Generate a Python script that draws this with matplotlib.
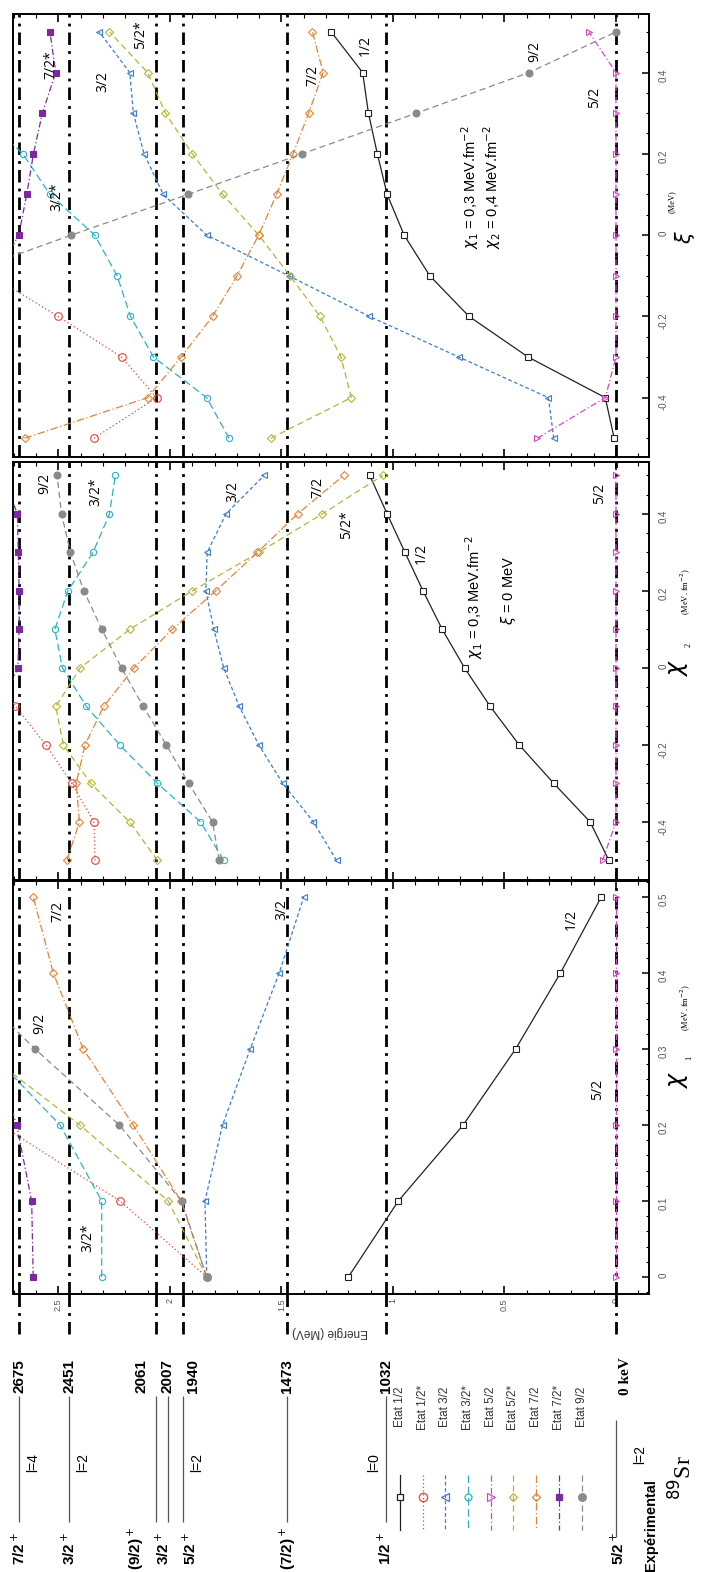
import numpy as np
import matplotlib
matplotlib.use("Agg")
import matplotlib.pyplot as plt
from matplotlib.ticker import MultipleLocator, FixedLocator

nan = np.nan

# ---- data (energies in MeV) ----
states = ["1/2", "1/2*", "3/2", "3/2*", "5/2", "5/2*", "7/2", "7/2*", "9/2"]

chi1_vals = [0.0, 0.1, 0.2, 0.3, 0.4, 0.5]
chi1_E = {
    "1/2": [1.20, 0.976, 0.685, 0.450, 0.249, 0.066],
    "1/2*": [1.835, 2.224, 2.76, nan, nan, nan],
    "3/2": [1.835, 1.843, 1.764, 1.64, 1.51, 1.40],
    "3/2*": [2.306, 2.306, 2.493, 2.82, nan, nan],
    "5/2": [0.0, 0.0, 0.0, 0.0, 0.0, 0.0],
    "5/2*": [1.835, 2.008, 2.404, 2.85, nan, nan],
    "7/2": [1.835, 1.95, 2.165, 2.389, 2.523, 2.613],
    "7/2*": [2.613, 2.62, 2.687, 2.80, nan, nan],
    "9/2": [1.835, 1.948, 2.227, 2.605, 2.95, nan],
}

chi2_vals = [-0.5, -0.4, -0.3, -0.2, -0.1, 0.0, 0.1, 0.2, 0.3, 0.4, 0.5]
chi2_E = {
    "1/2": [0.032, 0.116, 0.279, 0.434, 0.564, 0.679, 0.779, 0.865, 0.946, 1.026, 1.104],
    "1/2*": [2.335, 2.341, 2.44, 2.556, 2.693, 2.80, nan, nan, nan, nan, nan],
    "3/2": [1.253, 1.357, 1.494, 1.602, 1.689, 1.759, 1.803, 1.839, 1.833, 1.749, 1.578],
    "3/2*": [1.759, 1.863, 2.056, 2.225, 2.375, 2.482, 2.516, 2.458, 2.345, 2.271, 2.245],
    "5/2": [0.06, 0.0, 0.0, 0.0, 0.0, 0.0, 0.0, 0.0, 0.0, 0.0, 0.0],
    "5/2*": [2.056, 2.181, 2.355, 2.478, 2.512, 2.402, 2.181, 1.90, 1.602, 1.317, 1.046],
    "7/2": [2.462, 2.406, 2.42, 2.381, 2.297, 2.161, 1.99, 1.795, 1.608, 1.428, 1.221],
    "7/2*": [nan, nan, nan, nan, 2.76, 2.682, 2.676, 2.676, 2.68, 2.684, 2.75],
    "9/2": [1.779, 1.809, 1.916, 2.016, 2.12, 2.217, 2.305, 2.386, 2.446, 2.486, 2.506],
}

xi_vals = [-0.5, -0.4, -0.3, -0.2, -0.1, 0.0, 0.1, 0.2, 0.3, 0.4, 0.5]
xi_E = {
    "1/2": [0.008, 0.048, 0.394, 0.659, 0.835, 0.95, 1.026, 1.07, 1.11, 1.136, 1.277],
    "1/2*": [2.341, 2.06, 2.217, 2.502, 2.80, nan, nan, nan, nan, nan, nan],
    "3/2": [0.279, 0.303, 0.705, 1.106, 1.468, 1.835, 2.03, 2.116, 2.164, 2.18, 2.317],
    "3/2*": [1.735, 1.835, 2.074, 2.177, 2.237, 2.337, 2.538, 2.66, 2.85, nan, nan],
    "5/2": [0.353, 0.048, 0.0, 0.0, 0.0, 0.0, 0.0, 0.0, 0.0, 0.0, 0.122],
    "5/2*": [1.548, 1.187, 1.233, 1.327, 1.462, 1.602, 1.763, 1.90, 2.02, 2.10, 2.271],
    "7/2": [2.652, 2.10, 1.95, 1.809, 1.699, 1.602, 1.522, 1.448, 1.378, 1.313, 1.361],
    "7/2*": [nan, nan, nan, nan, 2.78, 2.678, 2.642, 2.612, 2.572, 2.512, 2.538],
    "9/2": [nan, nan, nan, nan, 2.95, 2.442, 1.92, 1.407, 0.895, 0.39, 0.0],
}

# experimental levels of 89Sr (keV)
exp_keV = [2675, 2451, 2061, 2007, 1940, 1473, 1032, 0]
exp_spin = [r"7/2$^+$", r"3/2$^+$", r"(9/2)$^+$", r"3/2$^+$", r"5/2$^+$",
            r"(7/2)$^+$", r"1/2$^+$", r"5/2$^+$"]
exp_ref = [2675, 2451, 2061, 1940, 1473, 1032, 0]   # dash-dot guide lines
exp_l = {2675: "l=4", 2451: "l=2", 1940: "l=2", 1032: "l=0", 0: "l=2"}

# ---- styles ----
style = {
    "1/2": dict(color="#222222", ls="-", marker="s", mfc="white", ms=4.5),
    "1/2*": dict(color="#e0443c", ls=(0, (1, 2)), marker="o", mfc="none", ms=5.5),
    "3/2": dict(color="#3d7cc9", ls=(0, (3, 2)), marker="<", mfc="none", ms=5),
    "3/2*": dict(color="#2ab3c6", ls=(0, (6, 3)), marker="o", mfc="none", ms=4.5),
    "5/2": dict(color="#d048c0", ls=(0, (5, 2, 1, 2)), marker=">", mfc="none", ms=5),
    "5/2*": dict(color="#b5b43a", ls=(0, (5, 3)), marker="D", mfc="none", ms=3.8),
    "7/2": dict(color="#e0843a", ls=(0, (6, 2, 1, 2)), marker="D", mfc="none", ms=3.8),
    "7/2*": dict(color="#7a2a9e", ls=(0, (5, 2, 1, 2)), marker="s", mfc="#7a2a9e", ms=4.5),
    "9/2": dict(color="#8a8a8a", ls=(0, (5, 3)), marker="o", mfc="#8a8a8a", ms=5),
}

W, H = 702, 1572
X0, X1 = 12.7, 649.0
ELEFT, ERIGHT = 2.705, -0.148


def px2e(px):
    return ELEFT + (px - X0) * (ERIGHT - ELEFT) / (X1 - X0)


def rect(top, bottom):
    return [X0 / W, 1 - bottom / H, (X1 - X0) / W, (bottom - top) / H]


plt.rcParams['font.family'] = ['Liberation Sans', 'DejaVu Sans']
fig = plt.figure(figsize=(W / 100, H / 100), dpi=100)
fig.patch.set_facecolor("white")

refstyle = dict(color="black", lw=2.0, ls=(0, (4.5, 2.2, 1.0, 2.2)))


def make_panel(top, bottom, pvals, E, plim, pmajor, pminor, fmt, elabels):
    ax = fig.add_axes(rect(top, bottom))
    for e in exp_ref:
        ax.axvline(e / 1000.0, zorder=1, **refstyle)
    for s in states:
        st = style[s]
        ax.plot(E[s], pvals, color=st["color"], ls=st["ls"], lw=0.9,
                marker=st["marker"], mfc=st["mfc"], mec=st["color"],
                ms=st["ms"], mew=0.8, zorder=3)
    ax.set_xlim(ELEFT, ERIGHT)
    ax.set_ylim(*plim)
    ax.xaxis.set_major_locator(MultipleLocator(0.5))
    ax.xaxis.set_minor_locator(MultipleLocator(0.1))
    ax.yaxis.set_major_locator(MultipleLocator(pmajor))
    ax.yaxis.set_minor_locator(MultipleLocator(pminor))
    ax.yaxis.tick_right()
    ax.tick_params(axis="x", which="both", direction="in", top=True, bottom=True,
                   labelbottom=elabels, labelrotation=90, labelsize=6.5,
                   labelcolor="#555555", pad=3)
    ax.tick_params(axis="x", which="major", length=6, width=1.2)
    ax.tick_params(axis="x", which="minor", length=3, width=0.8)
    ax.tick_params(axis="y", which="both", direction="in", right=True, left=False,
                   labelrotation=90, labelsize=7, labelcolor="#555555", pad=7)
    ax.tick_params(axis="y", which="major", length=5, width=1.1)
    ax.tick_params(axis="y", which="minor", length=2.5, width=0.8)
    ax.yaxis.set_major_formatter(plt.FuncFormatter(fmt))
    ax.xaxis.set_major_formatter(plt.FuncFormatter(
        lambda v, p: ("%g" % round(v, 2))))
    for sp in ax.spines.values():
        sp.set_linewidth(1.4)
    return ax


def pfmt(v, p):
    v = round(v, 2)
    return "0" if v == 0 else "%g" % v


ax1 = make_panel(881, 1294, chi1_vals, chi1_E, (-0.0224, 0.521), 0.1, 0.02, pfmt, True)
ax2 = make_panel(462, 880, chi2_vals, chi2_E, (-0.551, 0.535), 0.2, 0.05, pfmt, False)
ax3 = make_panel(14, 457, xi_vals, xi_E, (-0.546, 0.544), 0.2, 0.05, pfmt, False)
ax2.yaxis.set_major_locator(FixedLocator([-0.4, -0.2, 0, 0.2, 0.4]))
ax3.yaxis.set_major_locator(FixedLocator([-0.4, -0.2, 0, 0.2, 0.4]))


def ftext(px, py, s, **kw):
    kw.setdefault("rotation", 90)
    kw.setdefault("ha", "center")
    kw.setdefault("va", "center")
    fig.text(px / W, 1 - py / H, s, **kw)


lab = dict(fontsize=10, family=["Open Sans", "DejaVu Sans"])
# chi1 panel labels
ftext(88, 1238, "3/2*", **lab)
ftext(40, 1023, "9/2", **lab)
ftext(58, 912, "7/2", **lab)
ftext(282, 910, "3/2", **lab)
ftext(571, 920, "1/2", **lab)
ftext(598, 1090, "5/2", **lab)
# chi2 panel labels
ftext(45, 483, "9/2", **lab)
ftext(96, 492, "3/2*", **lab)
ftext(233, 492, "3/2", **lab)
ftext(318, 487, "7/2", **lab)
ftext(347, 525, "5/2*", **lab)
ftext(421, 553, "1/2", **lab)
ftext(600, 493, "5/2", **lab)
ftext(474, 597, r"$\chi_1$ = 0,3 MeV.fm$^{-2}$", fontsize=10.5)
ftext(508, 590, r"$\xi$ = 0 MeV", fontsize=10.5)
# xi panel labels
ftext(51, 65, "7/2*", **lab)
ftext(57, 197, "3/2*", **lab)
ftext(103, 82, "3/2", **lab)
ftext(141, 35, "5/2*", **lab)
ftext(313, 75, "7/2", **lab)
ftext(365, 45, "1/2", **lab)
ftext(535, 52, "9/2", **lab)
ftext(595, 97, "5/2", **lab)
ftext(470, 187, r"$\chi_1$ = 0,3 MeV.fm$^{-2}$", fontsize=10.5)
ftext(492, 187, r"$\chi_2$ = 0,4 MeV.fm$^{-2}$", fontsize=10.5)

# axis labels
serif = "Liberation Serif"
ftext(679, 1080, r"$\chi$", fontsize=17)
ftext(689, 1058, "1", fontsize=6, family=serif)
ftext(686, 1008, r"(MeV. fm$^{-2}$)", fontsize=6, family=serif)
ftext(679, 668, r"$\chi$", fontsize=17)
ftext(689, 645, "2", fontsize=6, family=serif)
ftext(686, 592, r"(MeV. fm$^{-2}$)", fontsize=6, family=serif)
ftext(685, 237, r"$\xi$", fontsize=15)
ftext(672, 202, "(MeV)", fontsize=6, family=serif)
ftext(330, 1332, "Energie (MeV)", rotation=180, fontsize=8.5, color="#333333")

# ---- experimental part ----
axe = fig.add_axes([X0 / W, 0, (X1 - X0) / W, (H - 1294) / H])
axe.set_xlim(ELEFT, ERIGHT)
axe.set_ylim(H, 1294)
axe.axis("off")
for e in exp_ref:
    axe.vlines(e / 1000.0, 1294, 1337, **refstyle)
num_shift = [0, 0, -15, -1, 10, 0, 0, 10]
spin_shift = [0, 0, -20, -5, 7, 0, 0, 2]
for k, e in enumerate(exp_keV):
    x = e / 1000.0
    y0, y1 = (1420, 1537) if e == 0 else (1396, 1522)
    axe.vlines(x, y0, y1, color="#555555", lw=0.9)
    xpx = X0 + (x - ELEFT) / (ERIGHT - ELEFT) * (X1 - X0)
    txt = "0 keV" if e == 0 else str(e)
    axe.text(px2e(xpx + num_shift[k]), 1376, txt, rotation=90, ha="center",
             va="center", fontsize=11, fontweight="bold",
             family=serif if e == 0 else "Liberation Sans")
    axe.text(px2e(xpx + spin_shift[k]), 1548, exp_spin[k], rotation=90,
             ha="center", va="center", fontsize=11, fontweight="bold",
             family="Liberation Sans")
    if e in exp_l:
        dx = {1032: -12, 0: 24}.get(e, 14)
        yy = 1455 if e == 0 else 1463
        axe.text(px2e(xpx + dx), yy, exp_l[e], rotation=90, ha="center",
                 va="center", fontsize=10)

# legend
for i, s in enumerate(states):
    st = style[s]
    xe = px2e(400 + 22.7 * i)
    axe.plot([xe, xe], [1475, 1530], color=st["color"], ls=st["ls"], lw=0.9)
    axe.plot([xe], [1497], marker=st["marker"], mfc=st["mfc"], mec=st["color"],
             ms=st["ms"] + 0.5, mew=0.9, ls="none")
    axe.text(xe, 1407, "Etat " + s, rotation=90, ha="center", va="center",
             fontsize=8.5, color="#333333")

ftext(651, 1525, "Expérimental", fontsize=10.5, fontweight="bold")
ftext(683, 1478, r"$^{89}$Sr", fontsize=17, family=serif)

fig.savefig("out.png", dpi=100)
